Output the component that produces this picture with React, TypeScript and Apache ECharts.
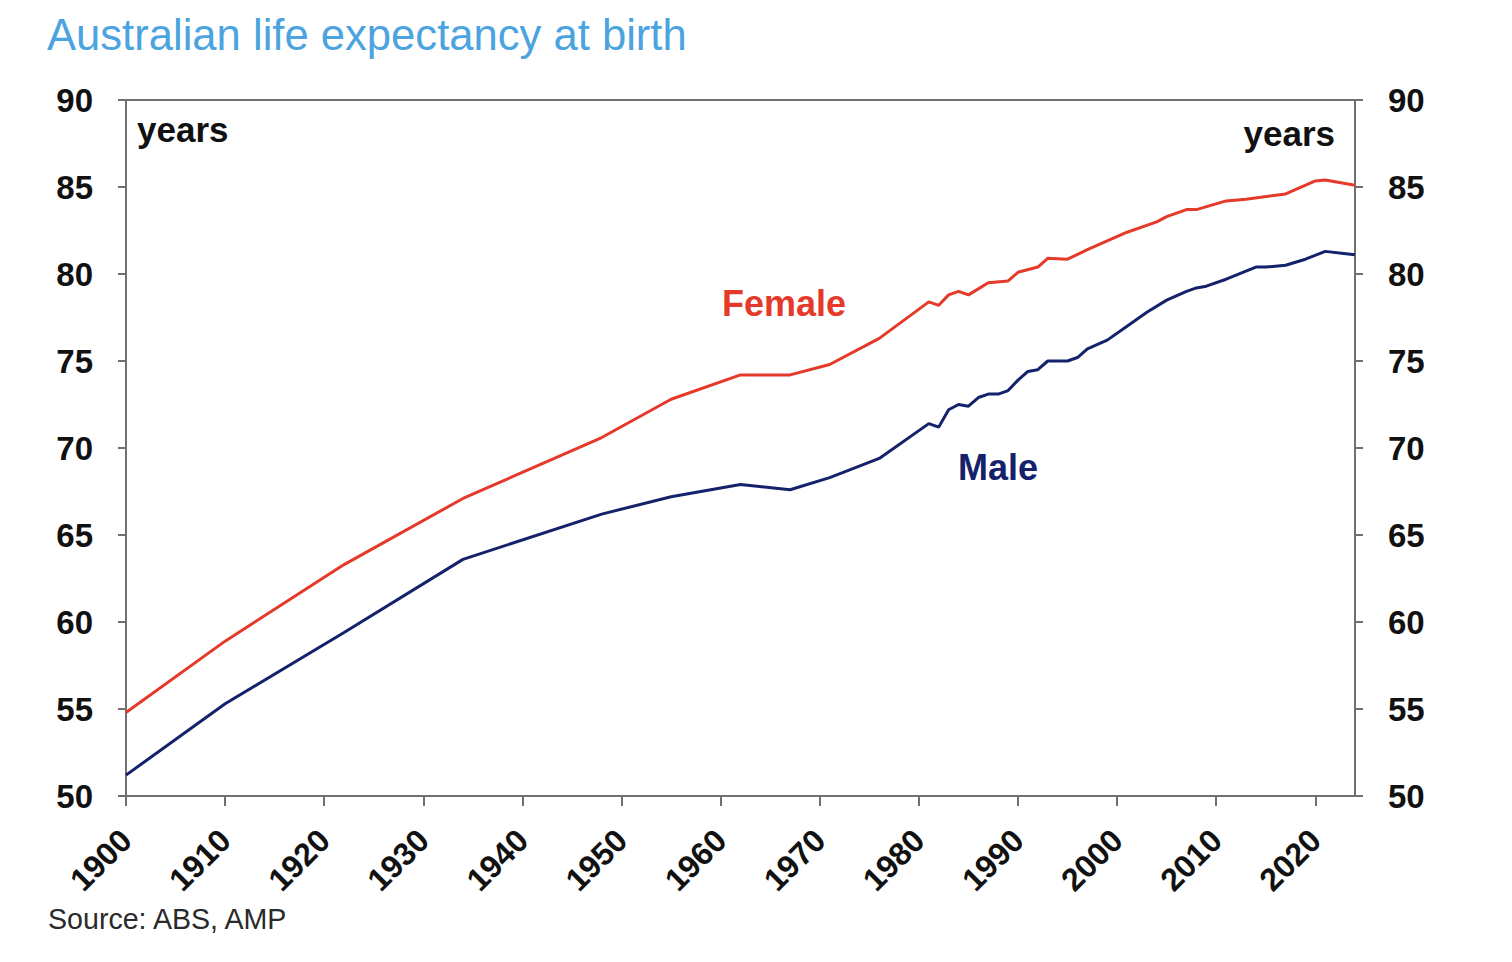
import React, { useEffect, useRef } from "react";
import * as echarts from "echarts";

const femaleYears = [1900, 1910, 1922, 1934, 1948, 1955, 1962, 1967, 1971, 1976, 1981, 1982, 1983, 1984, 1985, 1987, 1989, 1990, 1992, 1993, 1995, 1997, 1999, 2001, 2004, 2005, 2007, 2008, 2011, 2013, 2017, 2020, 2021, 2024];
const femaleValues = [54.8, 58.9, 63.3, 67.1, 70.6, 72.8, 74.2, 74.2, 74.8, 76.3, 78.4, 78.2, 78.8, 79.0, 78.8, 79.5, 79.6, 80.1, 80.4, 80.9, 80.85, 81.4, 81.9, 82.4, 83.0, 83.3, 83.7, 83.7, 84.2, 84.3, 84.6, 85.35, 85.4, 85.1];

const maleYears = [1900, 1910, 1922, 1934, 1948, 1955, 1962, 1967, 1971, 1976, 1981, 1982, 1983, 1984, 1985, 1986, 1987, 1988, 1989, 1990, 1991, 1992, 1993, 1995, 1996, 1997, 1999, 2001, 2003, 2005, 2007, 2008, 2009, 2011, 2014, 2015, 2017, 2019, 2021, 2024];
const maleValues = [51.2, 55.3, 59.4, 63.6, 66.2, 67.2, 67.9, 67.6, 68.3, 69.4, 71.4, 71.2, 72.2, 72.5, 72.4, 72.9, 73.1, 73.1, 73.3, 73.9, 74.4, 74.5, 75.0, 75.0, 75.2, 75.7, 76.2, 77.0, 77.8, 78.5, 79.0, 79.2, 79.3, 79.7, 80.4, 80.4, 80.5, 80.85, 81.3, 81.1];

const yearTicks = [1900, 1910, 1920, 1930, 1940, 1950, 1960, 1970, 1980, 1990, 2000, 2010, 2020];
const valueTicks = [50, 55, 60, 65, 70, 75, 80, 85, 90];

const TITLE = "Australian life expectancy at birth";
const SOURCE = "Source: ABS, AMP";

const FEMALE_COLOR = "#e5392a";
const MALE_COLOR = "#13226a";
const AXIS_COLOR = "#707070";
const FONT = "'Liberation Sans', Arial, sans-serif";

export default function App() {
  const ref = useRef<HTMLDivElement>(null);
  useEffect(() => {
    if (!ref.current) return;
    const chart = echarts.init(ref.current, undefined, { renderer: "svg" });
    const female = femaleYears.map((y, i) => [y, femaleValues[i]]);
    const male = maleYears.map((y, i) => [y, maleValues[i]]);
    const yAxisCommon = {
      type: "value" as const,
      min: valueTicks[0],
      max: valueTicks[valueTicks.length - 1],
      interval: 5,
      splitLine: { show: false },
      axisLine: { show: true, lineStyle: { color: AXIS_COLOR, width: 2 } },
      axisTick: { show: true, inside: false, length: 8, lineStyle: { color: AXIS_COLOR, width: 2 } },
      axisLabel: { fontFamily: FONT, fontWeight: "bold" as const, fontSize: 33, color: "#111", margin: 33 },
    };
    chart.setOption({
      animation: false,
      backgroundColor: "#ffffff",
      grid: { left: 126, right: 157, top: 100, bottom: 166, containLabel: false },
      xAxis: [
        {
          type: "value",
          min: yearTicks[0],
          max: 2024,
          interval: 10,
          splitLine: { show: false },
          axisLine: { show: true, onZero: false, lineStyle: { color: AXIS_COLOR, width: 2 } },
          axisTick: { show: true, length: 10, lineStyle: { color: AXIS_COLOR, width: 2 } },
          axisLabel: {
            rotate: 45,
            margin: 39,
            showMaxLabel: false,
            fontFamily: FONT,
            fontWeight: "bold",
            fontSize: 32,
            color: "#111",
            formatter: (v: number) => (yearTicks.includes(v) ? String(v) : ""),
          },
        },
        {
          type: "value",
          position: "top",
          min: yearTicks[0],
          max: 2024,
          axisLine: { show: true, onZero: false, lineStyle: { color: AXIS_COLOR, width: 2 } },
          axisTick: { show: false },
          axisLabel: { show: false },
          splitLine: { show: false },
        },
      ],
      yAxis: [
        { ...yAxisCommon, position: "left" },
        { ...yAxisCommon, position: "right" },
      ],
      series: [
        {
          name: "Female",
          type: "line",
          data: female,
          showSymbol: false,
          lineStyle: { color: FEMALE_COLOR, width: 3 },
          itemStyle: { color: FEMALE_COLOR },
        },
        {
          name: "Male",
          type: "line",
          data: male,
          showSymbol: false,
          lineStyle: { color: MALE_COLOR, width: 3 },
          itemStyle: { color: MALE_COLOR },
        },
      ],
      graphic: [
        { type: "text", left: 47, top: 13, style: { text: TITLE, font: `43.6px ${FONT}`, fill: "#4ba3e0" } },
        { type: "text", left: 137, top: 112, style: { text: "years", font: `bold 35px ${FONT}`, fill: "#111" } },
        { type: "text", right: 177, top: 116, style: { text: "years", font: `bold 35px ${FONT}`, fill: "#111" } },
        { type: "text", left: 722, top: 285, style: { text: "Female", font: `bold 36px ${FONT}`, fill: FEMALE_COLOR } },
        { type: "text", left: 958, top: 449, style: { text: "Male", font: `bold 36px ${FONT}`, fill: MALE_COLOR } },
        { type: "text", left: 48, top: 904, style: { text: SOURCE, font: `28.6px ${FONT}`, fill: "#2a2a2a" } },
      ],
    });
    return () => chart.dispose();
  }, []);
  return <div ref={ref} style={{ width: 1512, height: 962, position: "absolute", left: 0, top: 0 }} />;
}
